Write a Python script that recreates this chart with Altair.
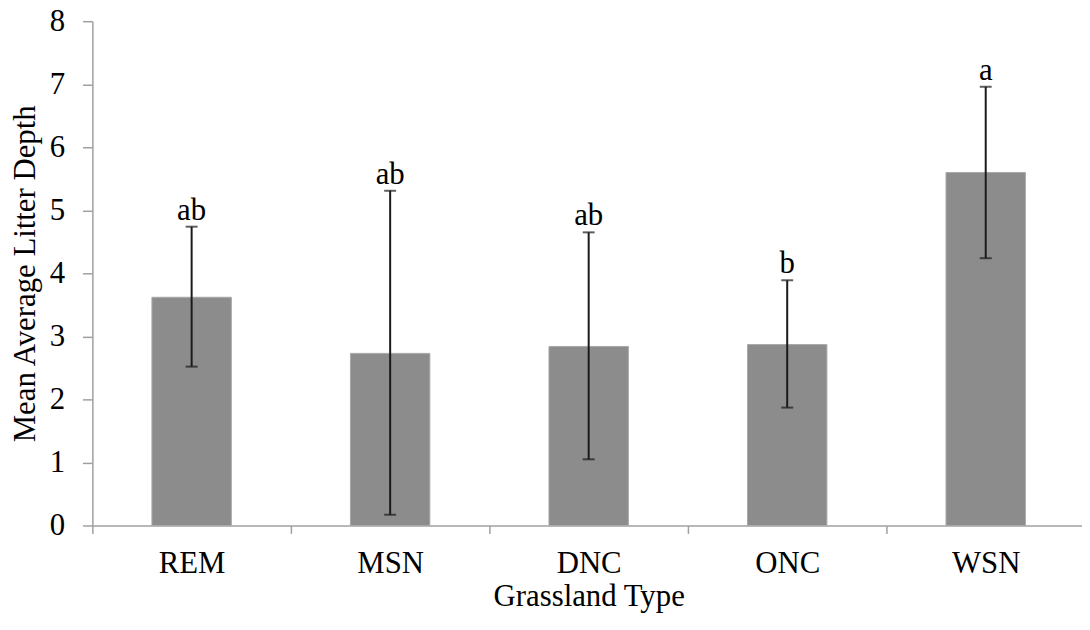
import altair as alt
import pandas as pd

categories = ["REM", "MSN", "DNC", "ONC", "WSN"]
means = [3.62, 2.73, 2.84, 2.87, 5.60]
err_low = [2.52, 0.17, 1.05, 1.87, 4.24]
err_high = [4.74, 5.31, 4.65, 3.89, 6.96]
letters = ["ab", "ab", "ab", "b", "a"]

df = pd.DataFrame({
    "type": categories,
    "mean": means,
    "lo": err_low,
    "hi": err_high,
    "letter": letters,
})

FONT = "Liberation Serif"
FS = 31
AXIS_COLOR = "#a0a0a0"

x_enc = alt.X(
    "type:N",
    sort=categories,
    scale=alt.Scale(paddingInner=0, paddingOuter=0, range=[0, 1000]),
    axis=alt.Axis(
        title="Grassland Type",
        labelAngle=0,
        tickBand="extent",
        tickSize=8,
        labelPadding=15,
        domainColor=AXIS_COLOR,
        tickColor=AXIS_COLOR,
        domainWidth=1.5,
        tickWidth=1.5,
        labelFont=FONT,
        labelFontSize=FS,
        labelColor="black",
        titleFont=FONT,
        titleFontSize=FS,
        titleFontWeight="normal",
        titleColor="black",
        titleBaseline="alphabetic",
        titleY=81,
    ),
)

y_scale = alt.Scale(domain=[0, 8], nice=False, zero=True)
y_axis = alt.Axis(
    title="Mean Average Litter Depth",
    values=[0, 1, 2, 3, 4, 5, 6, 7, 8],
    format="d",
    grid=False,
    tickSize=10,
    labelPadding=18,
    domainColor=AXIS_COLOR,
    tickColor=AXIS_COLOR,
    domainWidth=1.5,
    tickWidth=1.5,
    labelFont=FONT,
    labelFontSize=FS,
    labelColor="black",
    titleFont=FONT,
    titleFontSize=FS,
    titleFontWeight="normal",
    titleColor="black",
    titleBaseline="alphabetic",
    titleAlign="center",
    titleX=-58,
    titleY=254,
)

base = alt.Chart(df)

bars = base.mark_bar(
    width=alt.RelativeBandSize(0.4),
    color="#8c8c8c",
    stroke="#a8a8a8",
    strokeWidth=1,
).encode(
    x=x_enc,
    y=alt.Y("mean:Q", scale=y_scale, axis=y_axis),
)

rules = base.mark_rule(color="#1a1a1a", strokeWidth=2).encode(
    x=alt.X("type:N", sort=categories),
    y="lo:Q",
    y2="hi:Q",
)

cap_hi = base.mark_tick(color="#1a1a1a", size=12, thickness=2).encode(
    x=alt.X("type:N", sort=categories),
    y="hi:Q",
)

cap_lo = base.mark_tick(color="#1a1a1a", size=12, thickness=2).encode(
    x=alt.X("type:N", sort=categories),
    y="lo:Q",
)

labels = base.mark_text(
    font=FONT, fontSize=FS, color="black", baseline="alphabetic", dy=-7
).encode(
    x=alt.X("type:N", sort=categories),
    y="hi:Q",
    text="letter:N",
)

chart = (
    alt.layer(bars, rules, cap_hi, cap_lo, labels)
    .properties(
        width=997,
        height=508,
        autosize=alt.AutoSizeParams(type="none"),
        padding={"left": 85, "top": 11, "right": 0, "bottom": 100},
        background="white",
    )
    .configure_view(strokeWidth=0)
)

chart.save("out.html", embed_options={"renderer": "svg", "actions": False})
